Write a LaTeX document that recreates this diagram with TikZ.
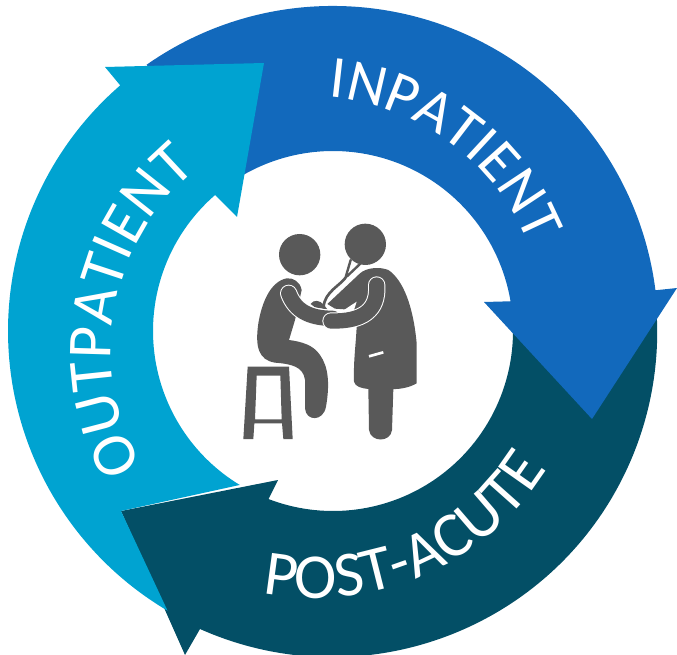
\documentclass[tikz,border=0pt]{standalone}
\usepackage{fontspec}
\setmainfont{Carlito}
\usetikzlibrary{decorations.text}
\definecolor{lb}{HTML}{00A3D1}
\definecolor{db}{HTML}{1269BC}
\definecolor{tl}{HTML}{034F66}
\definecolor{gr}{HTML}{595959}
\tikzset{
 pix/.style={shift={(220,210)},x=0.25pt,y=-0.25pt},
 armwhite/.style={draw=white,line width=13pt,line cap=round,line join=round},
 armgray/.style={draw=gr,line width=11.5pt,line cap=round,line join=round},
 tube/.style={draw=gr,line width=2pt,line cap=round,line join=round}
}
\newcommand{\labfont}[1]{\fontsize{#1}{#1}\selectfont\color{white}}
\begin{document}
\begin{tikzpicture}[x=0.75pt,y=-0.75pt]
\useasboundingbox (0,0) rectangle (677,655);
\coordinate (C) at (333,331);
\coordinate (CI) at (310,331);
\coordinate (CO) at (345,350);
\coordinate (CP) at (315,325);
% teal arrow
\fill[tl] (278,480) -- (121,511) -- (185,655) -- (200,629)
  arc[start angle=246,end angle=363,radius=243.75pt]
  -- ([shift={(3:135pt)}]C)
  arc[start angle=3,end angle=-111,radius=135pt] -- cycle;
% blue arrow
\fill[db] ([shift={(125:243.75pt)}]C)
  arc[start angle=125,end angle=7.2,radius=243.75pt]
  -- (677,288) -- (592,419) -- (484,302) -- ([shift={(9.5:135pt)}]C)
  arc[start angle=9.5,end angle=120,radius=135pt] -- cycle;
% light-blue arrow
\fill[lb] ([shift={(239.4:243.75pt)}]C)
  arc[start angle=239.4,end angle=130.9,radius=243.75pt]
  -- (105,67) -- (264,63) -- (237,217) -- ([shift={(130.9:135pt)}]C)
  arc[start angle=130.9,end angle=238.8,radius=135pt]
  -- (121,511) -- cycle;
% labels
\path[decorate,decoration={text along path,text align=center,text={|\labfont{45}|INPATIENT}}]
  ([shift={(103.5:176pt)}]CI) arc[start angle=103.5,end angle=3.5,radius=176pt];
\path[decorate,decoration={text along path,text align=center,text={|\labfont{47}|OUTPATIENT}}]
  ([shift={(219.5:175.5pt)}]CO) arc[start angle=219.5,end angle=119.5,radius=175.5pt];
\path[decorate,decoration={text along path,text align=center,text={|\labfont{48}|POST-ACUTE}}]
  ([shift={(243.5:204.75pt)}]CP) arc[start angle=243.5,end angle=343.5,radius=204.75pt];
% figures
\begin{scope}[pix]
 % stool
 \fill[gr,even odd rule] (83,470) -- (207,470) -- (218,687) -- (190,687) -- (186,640) -- (103,640) -- (100,687) -- (70,687) -- cycle
   (110,497) -- (181,497) -- (185,628) -- (105,628) -- cycle;
 % patient
 \fill[gr] (239,134) circle[radius=15.5pt];
 \fill[gr] (200,205) .. controls (150,215) and (125,280) .. (115,340)
   .. controls (105,410) and (115,450) .. (165,458)
   .. controls (215,462) and (250,470) .. (255,510)
   -- (255,595) .. controls (258,635) and (310,635) .. (318,590)
   .. controls (330,520) and (325,470) .. (300,435)
   .. controls (280,405) and (245,395) .. (207,390)
   -- (225,330) -- (245,240) .. controls (240,215) and (220,203) .. (200,205) -- cycle;
 % doctor: head, stethoscope, body
 \fill[gr] (436,103) circle[radius=15.5pt];
 \draw[tube,line width=1.8pt] (392,150) -- (378,198);
 \draw[tube,line width=1.8pt] (420,162) -- (382,198);
 \draw[tube] (380,198) .. controls (365,225) and (312,245) .. (311,292);
 \fill[gr] (272,282) .. controls (280,268) and (300,270) .. (312,285) -- (322,298) -- (285,292) -- cycle;
 \fill[gr] (322,282) -- (420,190) .. controls (440,172) and (480,170) .. (505,180)
   .. controls (550,210) and (580,290) .. (590,400) -- (590,520)
   .. controls (570,532) and (540,538) .. (520,537)
   -- (516,660) .. controls (512,698) and (452,698) .. (447,660)
   -- (445,537) .. controls (425,535) and (405,530) .. (402,515)
   .. controls (400,450) and (408,400) .. (410,350) -- (400,300) -- (345,296) -- cycle;
 \fill[white] (372,300) -- (410,275) -- (402,300) -- cycle;
 % pocket
 \draw[white,line width=2pt] (447,439) -- (490,427);
 % patient arm
 \draw[armwhite] (206,250) .. controls (225,300) and (265,325) .. (338,325);
 \draw[armgray] (206,250) .. controls (225,300) and (265,325) .. (338,325);
 % doctor arm
 \draw[armwhite] (470,225) .. controls (475,300) and (430,335) .. (333,333);
 \draw[armgray] (470,225) .. controls (475,300) and (430,335) .. (333,333);
\end{scope}
\end{tikzpicture}
\end{document}
